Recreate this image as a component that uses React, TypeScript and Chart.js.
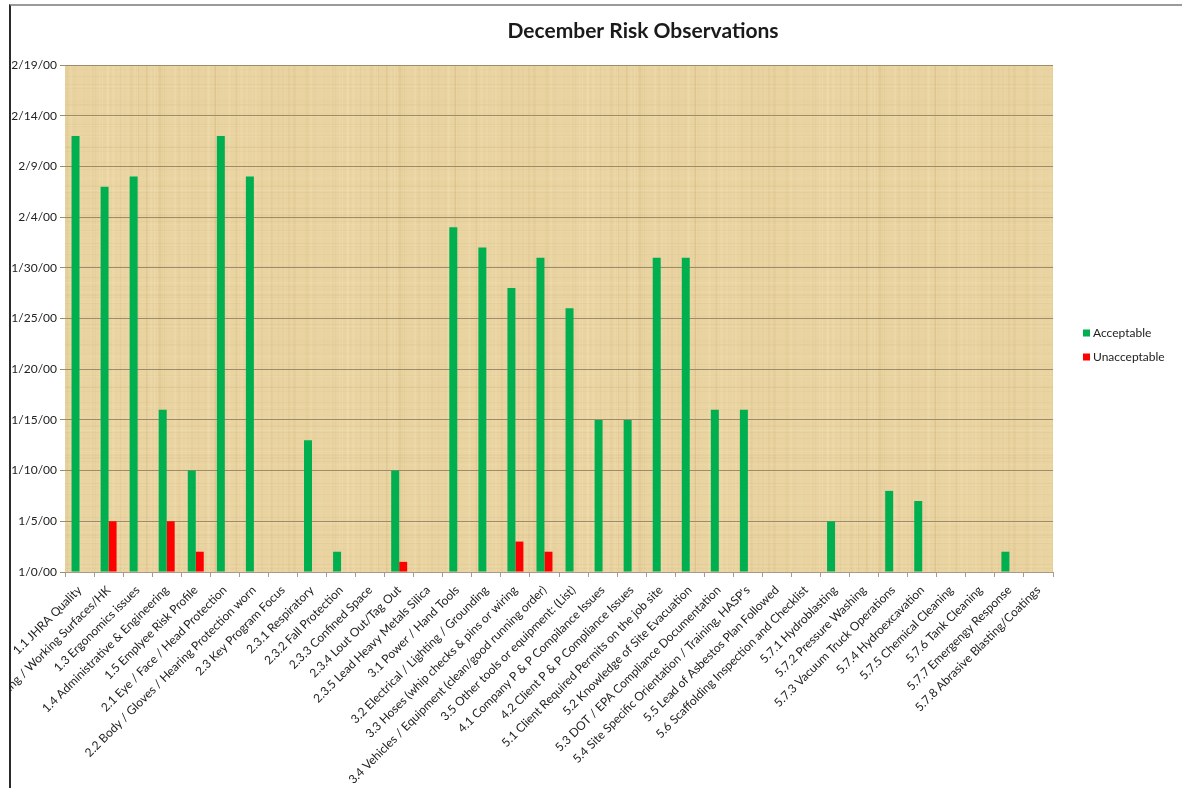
import React, { useEffect, useRef } from 'react';
import { Chart, registerables } from 'chart.js';

Chart.register(...registerables);

const chartTitle = 'December Risk Observations';

const categories = [
  '1.1 JHRA Quality',
  '1.2 Walking / Working Surfaces/HK',
  '1.3 Ergonomics issues',
  '1.4 Administrative & Engineering',
  '1.5 Emplyee Risk Profile',
  '2.1 Eye / Face / Head Protection',
  '2.2 Body / Gloves / Hearing Protection worn',
  '2.3 Key Program Focus',
  '2.3.1 Respiratory',
  '2.3.2 Fall Protection',
  '2.3.3 Confined Space',
  '2.3.4 Lout Out/Tag Out',
  '2.3.5 Lead Heavy Metals Silica',
  '3.1 Power / Hand Tools',
  '3.2 Electrical / Lighting / Grounding',
  '3.3 Hoses (whip checks & pins or wiring',
  '3.4 Vehicles / Equipment (clean/good running order)',
  '3.5 Other tools or equipment: (List)',
  '4.1 Company P & P Compilance Issues',
  '4.2 Client P & P Compliance Issues',
  '5.1 Client Required Permits on the job site',
  '5.2 Knowledge of Site Evacuation',
  '5.3 DOT / EPA Compliance Documentation',
  "5.4 Site Specific Orientation / Training, HASP's",
  '5.5 Lead of Asbestos Plan Followed',
  '5.6 Scaffolding Inspection and Checklist',
  '5.7.1 Hydroblasting',
  '5.7.2 Pressure Washing',
  '5.7.3 Vacuum Truck Operations',
  '5.7.4 Hydroexcavation',
  '5.7.5 Chemical Cleaning',
  '5.7.6 Tank Cleaning',
  '5.7.7 Emergengy Response',
  '5.7.8 Abrasive Blasting/Coatings',
];

const acceptable = [
  43, 38, 39, 16, 10, 43, 39, null, 13, 2, null, 10, null, 34, 32, 28, 31, 26,
  15, 15, 31, 31, 16, 16, null, null, 5, null, 8, 7, null, null, 2, null,
];

const unacceptable = [
  null, 5, null, 5, 2, null, null, null, null, null, null, 1, null, null, null, 3, 2, null,
  null, null, null, null, null, null, null, null, null, null, null, null, null, null, null, null,
];

const seriesNames = ['Acceptable', 'Unacceptable'];
const seriesColors = ['#00B050', '#FF0000'];

const yTickLabels = [
  '1/0/00', '1/5/00', '1/10/00', '1/15/00', '1/20/00', '1/25/00',
  '1/30/00', '2/4/00', '2/9/00', '2/14/00', '2/19/00',
];

function hash(n: number) {
  const s = Math.sin(n * 12.9898 + 78.233) * 43758.5453;
  return s - Math.floor(s);
}

function makeParchment(): CanvasPattern | string {
  const c = document.createElement('canvas');
  c.width = 240;
  c.height = 240;
  const g = c.getContext('2d');
  if (!g) return '#E9D39F';
  g.fillStyle = '#E9D3A0';
  g.fillRect(0, 0, 240, 240);
  for (let i = 0; i < 90; i++) {
    const x = Math.floor(hash(i) * 240);
    const w = 1 + Math.floor(hash(i + 100) * 2);
    const dark = hash(i + 200) > 0.5;
    g.fillStyle = dark
      ? `rgba(175,140,75,${0.03 + hash(i + 300) * 0.05})`
      : `rgba(255,244,210,${0.06 + hash(i + 400) * 0.08})`;
    g.fillRect(x, 0, w, 240);
  }
  for (let i = 0; i < 70; i++) {
    const y = Math.floor(hash(i + 500) * 240);
    const dark = hash(i + 700) > 0.5;
    g.fillStyle = dark
      ? `rgba(175,140,75,${0.03 + hash(i + 800) * 0.05})`
      : `rgba(255,244,210,${0.06 + hash(i + 900) * 0.08})`;
    g.fillRect(0, y, 240, 1);
  }
  const p = g.createPattern(c, 'repeat');
  return p || '#E9D39F';
}

const FONT = 'Lato, "Open Sans", "DejaVu Sans", sans-serif';

export default function App() {
  const ref = useRef<HTMLCanvasElement | null>(null);

  useEffect(() => {
    if (!ref.current) return;
    const parchment = makeParchment();

    const bgPlugin = {
      id: 'plotBg',
      beforeDraw(chart: any) {
        const { ctx, chartArea } = chart;
        ctx.save();
        ctx.fillStyle = parchment as any;
        ctx.fillRect(chartArea.left, chartArea.top, chartArea.right - chartArea.left, chartArea.bottom - chartArea.top);
        ctx.restore();
      },
    };

    const decoPlugin = {
      id: 'deco',
      afterDraw(chart: any) {
        const { ctx, chartArea } = chart;
        ctx.save();
        ctx.fillStyle = '#1a1a1a';
        ctx.font = `bold 21px ${FONT}`;
        ctx.textAlign = 'center';
        ctx.textBaseline = 'middle';
        ctx.fillText(chartTitle, 632, 25);
        ctx.font = `12px ${FONT}`;
        ctx.textAlign = 'left';
        seriesNames.forEach((name, i) => {
          const y = chartArea.top + 268 + i * 24;
          ctx.fillStyle = seriesColors[i];
          ctx.fillRect(chartArea.right + 30, y - 3.5, 7, 7);
          ctx.fillStyle = '#222';
          ctx.fillText(name, chartArea.right + 40, y + 0.5);
        });
        ctx.restore();
      },
    };

    const chart = new Chart(ref.current, {
      type: 'bar',
      data: {
        labels: categories,
        datasets: [
          {
            label: seriesNames[0],
            data: acceptable,
            backgroundColor: seriesColors[0],
            categoryPercentage: 0.55,
            barPercentage: 1,
          },
          {
            label: seriesNames[1],
            data: unacceptable,
            backgroundColor: seriesColors[1],
            categoryPercentage: 0.55,
            barPercentage: 1,
          },
        ],
      },
      options: {
        animation: false,
        responsive: false,
        maintainAspectRatio: false,
        layout: { padding: { top: 59, right: 129, left: 0, bottom: 0 } },
        plugins: {
          legend: { display: false },
          title: { display: false },
          tooltip: { enabled: false },
        },
        scales: {
          x: {
            grid: {
              offset: true,
              drawOnChartArea: false,
              drawTicks: true,
              tickLength: 5,
              color: '#a8998a',
            },
            border: { display: true, color: '#a8998a' },
            ticks: {
              autoSkip: false,
              maxRotation: 45,
              minRotation: 45,
              padding: 6,
              color: '#222',
              font: { family: FONT, size: 12 },
            },
            afterFit(scale: any) {
              scale.height = 216;
              scale.paddingLeft = 0;
              scale.paddingRight = 0;
            },
          },
          y: {
            min: 0,
            max: 50,
            grid: {
              color: '#9d8c6c',
              lineWidth: 1,
              drawTicks: true,
              tickLength: 5,
            },
            border: { display: false },
            ticks: {
              stepSize: 5,
              padding: 3,
              color: '#222',
              font: { family: FONT, size: 12 },
              callback: (v: any) => yTickLabels[Math.round(Number(v) / 5)],
            },
            afterFit(scale: any) {
              scale.width = 54;
            },
          },
        },
      },
      plugins: [bgPlugin, decoPlugin],
    });

    return () => chart.destroy();
  }, []);

  return (
    <div
      style={{
        position: 'absolute',
        left: 9,
        top: 4,
        width: 1171,
        height: 782,
        borderTop: '2px solid #9a9a9a',
        borderLeft: '2px solid #2a2a2a',
        background: '#fff',
      }}
    >
      <canvas ref={ref} width={1171} height={782} style={{ display: 'block', width: 1171, height: 782 }} />
    </div>
  );
}
